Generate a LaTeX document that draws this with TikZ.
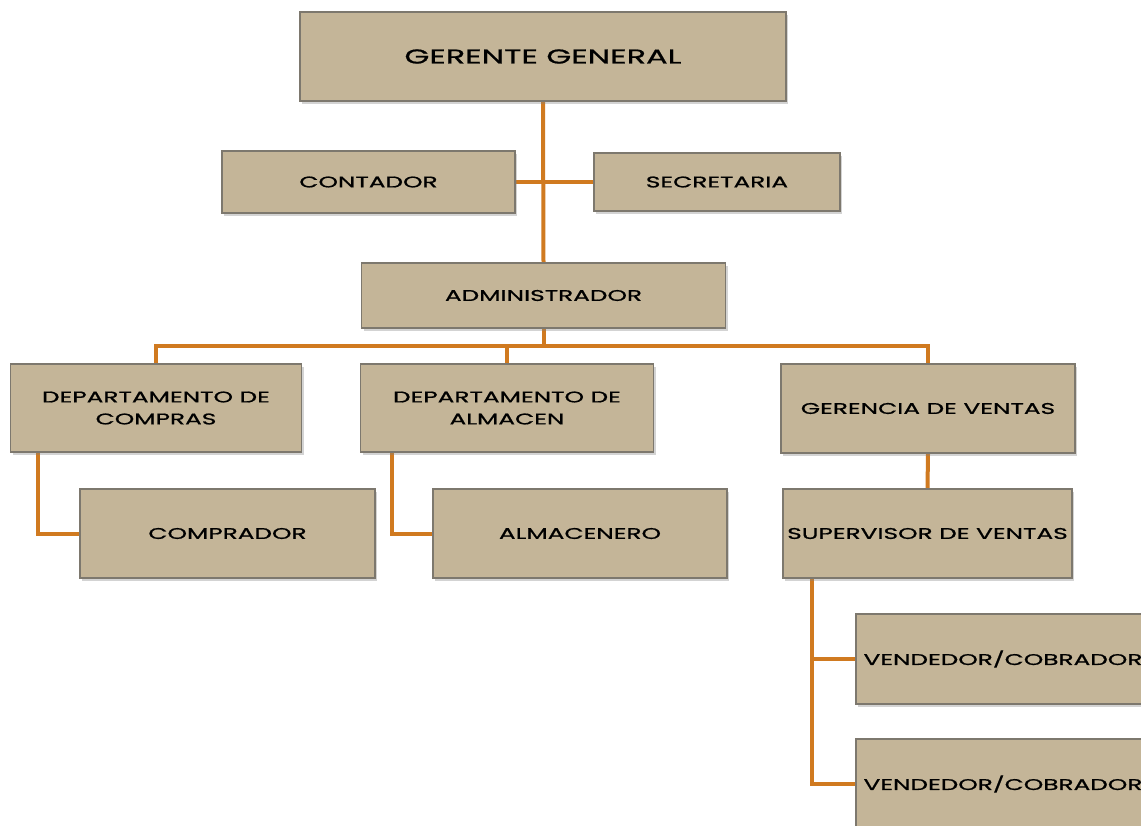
\documentclass[tikz,border=0pt]{standalone}
\usepackage{fontspec}
\setmainfont{Poppins}[FakeStretch=1.6, FakeBold=0.9]
\usetikzlibrary{shadows, backgrounds}

\definecolor{caja}{RGB}{196,181,152}
\definecolor{borde}{RGB}{125,120,110}
\definecolor{linea}{RGB}{208,122,32}

\begin{document}
\begin{tikzpicture}[x=1pt, y=-1pt,
    puesto/.style={draw=borde, fill=caja, line width=1.2pt, inner sep=0pt,
        align=center, font=\fontsize{15.5}{22}\selectfont,
        drop shadow={shadow xshift=2pt, shadow yshift=-2.5pt, opacity=.35}},
    enlace/.style={draw=linea, line width=4pt}]
\useasboundingbox (0,0) rectangle (1141,825);
\begin{scope}
       \clip (0,0) rectangle (1141,825);
% cajas
\node[puesto, minimum width=486, minimum height=89, font=\fontsize{20}{22}\selectfont] (gerente) at (543,56.5) {GERENTE GENERAL};
\node[puesto, minimum width=293, minimum height=62] (contador) at (368.5,182) {CONTADOR};
\node[puesto, minimum width=246, minimum height=58] (secretaria) at (717,182) {SECRETARIA};
\node[puesto, minimum width=364, minimum height=65] (admin) at (543.5,295.5) {ADMINISTRADOR};
\node[puesto, minimum width=291, minimum height=88] (compras) at (156,408) {DEPARTAMENTO DE\\COMPRAS};
\node[puesto, minimum width=293, minimum height=88] (almacen) at (507,408) {DEPARTAMENTO DE\\ALMACEN};
\node[puesto, minimum width=294, minimum height=89] (gerencia) at (928,408.5) {GERENCIA DE VENTAS};
\node[puesto, minimum width=295, minimum height=89] (comprador) at (227.5,533.5) {COMPRADOR};
\node[puesto, minimum width=294, minimum height=89] (almacenero) at (580,533.5) {ALMACENERO};
\node[puesto, minimum width=289, minimum height=89] (supervisor) at (927.5,533.5) {SUPERVISOR DE VENTAS};
\node[puesto, minimum width=294, minimum height=90] (vendedorA) at (1003,659) {VENDEDOR/COBRADOR};
\node[puesto, minimum width=294, minimum height=90] (vendedorB) at (1003,784) {VENDEDOR/COBRADOR};
\coordinate (bus) at (543.5,346);

% lineas
\begin{scope}[on background layer]
\draw[enlace] (gerente.south) -- (admin.north);
\draw[enlace] (contador.east) -- (secretaria.west);
\draw[enlace] (admin.south) -- (bus);
\draw[enlace] (compras.north) |- (bus) -| (gerencia.north);
\draw[enlace] (almacen.north) -- (almacen.north |- bus);
\draw[enlace] ([xshift=28pt]compras.south west) |- (comprador.west);
\draw[enlace] ([xshift=32pt]almacen.south west) |- (almacenero.west);
\draw[enlace] (gerencia.south) -- (supervisor.north);
\foreach \v in {vendedorA, vendedorB}
    \draw[enlace] ([xshift=30pt]supervisor.south west) |- (\v.west);
\end{scope}
\end{scope}
\end{tikzpicture}
\end{document}
